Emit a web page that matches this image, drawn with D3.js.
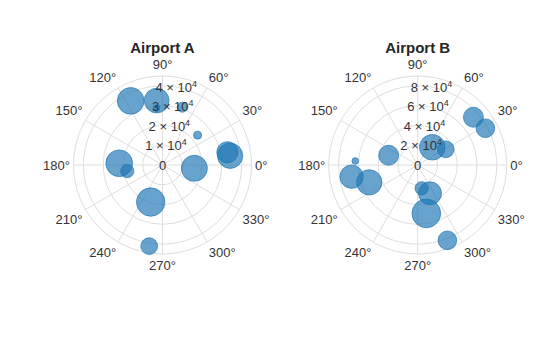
<!DOCTYPE html>
<html>
<head>
<meta charset="utf-8">
<script src="https://cdn.jsdelivr.net/npm/d3@7"></script>
<style>
  html, body { margin: 0; padding: 0; background: #fff; }
  svg { display: block; }
  text { font-family: "Liberation Sans", Arial, sans-serif; }
</style>
</head>
<body>
<svg id="chart" width="560" height="337"></svg>
<script>
// Angular ticks (degrees, counter-clockwise from east)
const angleTicks = [0, 30, 60, 90, 120, 150, 180, 210, 240, 270, 300, 330];

// Airport A: bearing (deg), distance, traffic volume
const titleA = "Airport A";
const thetaA = [116.4, 95.2, 95.8, 71.0, 40.4, 7.8, 11.1, 354.1, 177.7, 189.7, 252.3, 260.7];
const distA  = [36200, 32700, 28860, 30890, 23290, 34500, 33440, 16200, 21900, 18080, 19660, 41560];
const volA   = [1780, 1530, 110, 250, 160, 1600, 1130, 1690, 1780, 440, 2020, 700];
const rTicksA = [0, 10000, 20000, 30000, 40000];
const rLabelsA = ["0", "1 × 10^4", "2 × 10^4", "3 × 10^4", "4 × 10^4"];
const rMaxA = 45000;

// Airport B
const titleB = "Airport B";
const thetaB = [40.6, 28.5, 50.5, 29.3, 161.5, 176.3, 190.0, 199.7, 279.7, 293.5, 280.1, 291.5];
const distB  = [74200, 77900, 23200, 32500, 30980, 63300, 67900, 52050, 23900, 31260, 49700, 81900];
const volB   = [1000, 870, 1640, 700, 1000, 110, 1360, 1600, 440, 1320, 2060, 870];
const rTicksB = [0, 20000, 40000, 60000, 80000];
const rLabelsB = ["0", "2 × 10^4", "4 × 10^4", "6 × 10^4", "8 × 10^4"];
const rMaxB = 90000;

const svg = d3.select("#chart");
const R = 89;
const blue = "#1f77b4";
const gridColor = "#dedede";
const labelAngle = 80; // radial tick labels sit along this bearing
const angPad = 92.5;   // distance of angular labels from the pole
const angShift = 7.8;  // vertical nudge of angular labels away from the equator

const size = d3.scaleSqrt().domain([0, 2000]).range([0, Math.sqrt(200)]);

function toXY(theta, r) {
  const a = theta * Math.PI / 180;
  return [r * Math.cos(a), -r * Math.sin(a)];
}

function addLabel(sel, str) {
  const parts = str.split("^");
  sel.append("tspan").text(parts[0]);
  if (parts.length > 1) {
    sel.append("tspan").attr("font-size", "9px").attr("dy", "-5").text(parts[1]);
  }
}

function drawPolar(cx, cy, title, theta, dist, vol, rTicks, rLabels, rMax) {
  const g = svg.append("g").attr("transform", `translate(${cx},${cy})`);
  const rs = d3.scaleLinear().domain([0, rMax]).range([0, R]);

  // radial grid circles and outer boundary
  g.selectAll("circle.grid")
    .data(rTicks.filter(t => t > 0).concat([rMax]))
    .join("circle")
    .attr("class", "grid")
    .attr("r", d => rs(d))
    .attr("fill", "none")
    .attr("stroke", gridColor)
    .attr("stroke-width", 1);

  // angular spokes
  g.selectAll("line.spoke")
    .data(angleTicks)
    .join("line")
    .attr("class", "spoke")
    .attr("x1", 0).attr("y1", 0)
    .attr("x2", d => toXY(d, R)[0])
    .attr("y2", d => toXY(d, R)[1])
    .attr("stroke", gridColor)
    .attr("stroke-width", 1);

  // angular tick labels
  const cosOf = d => Math.cos(d * Math.PI / 180);
  const sinOf = d => Math.sin(d * Math.PI / 180);
  g.selectAll("text.ang")
    .data(angleTicks)
    .join("text")
    .attr("class", "ang")
    .attr("x", d => toXY(d, angPad)[0])
    .attr("y", d => {
      const s = sinOf(d);
      const off = Math.abs(s) < 0.01 ? 0 : -Math.sign(s) * angShift;
      return toXY(d, angPad)[1] + off;
    })
    .attr("text-anchor", d => {
      const c = cosOf(d);
      return c > 0.01 ? "start" : c < -0.01 ? "end" : "middle";
    })
    .attr("dominant-baseline", "central")
    .attr("font-size", "13px")
    .attr("fill", "#333")
    .text(d => d + "°");

  // points
  g.selectAll("circle.pt")
    .data(theta.map((t, i) => ({ t, r: dist[i], v: vol[i] })))
    .join("circle")
    .attr("class", "pt")
    .attr("cx", d => toXY(d.t, rs(d.r))[0])
    .attr("cy", d => toXY(d.t, rs(d.r))[1])
    .attr("r", d => size(d.v))
    .attr("fill", blue)
    .attr("fill-opacity", 0.68)
    .attr("stroke", blue)
    .attr("stroke-opacity", 0.68)
    .attr("stroke-width", 1);

  // radial tick labels
  g.selectAll("text.rad")
    .data(rTicks.map((t, i) => ({ t, label: rLabels[i] })))
    .join("text")
    .attr("class", "rad")
    .attr("x", d => toXY(labelAngle, rs(d.t))[0])
    .attr("y", d => toXY(labelAngle, rs(d.t))[1] + 4.5)
    .attr("text-anchor", "middle")
    .attr("font-size", "13px")
    .attr("fill", "#333")
    .each(function (d) { addLabel(d3.select(this), d.label); });

  // title
  svg.append("text")
    .attr("x", cx)
    .attr("y", 53)
    .attr("text-anchor", "middle")
    .attr("font-size", "15px")
    .attr("font-weight", "bold")
    .attr("fill", "#262626")
    .text(title);
}

drawPolar(162.5, 165, titleA, thetaA, distA, volA, rTicksA, rLabelsA, rMaxA);
drawPolar(417.7, 165, titleB, thetaB, distB, volB, rTicksB, rLabelsB, rMaxB);
</script>
</body>
</html>
